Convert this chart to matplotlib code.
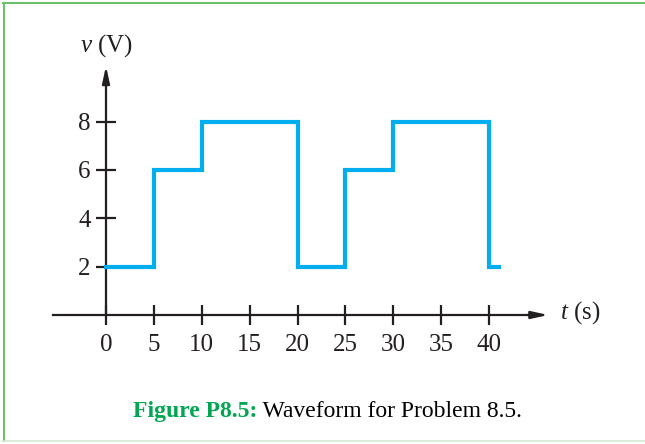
import matplotlib
matplotlib.use("Agg")
import matplotlib.pyplot as plt
from matplotlib.lines import Line2D

plt.rcParams['mathtext.fontset'] = 'custom'
plt.rcParams['mathtext.rm'] = 'Liberation Serif'
plt.rcParams['mathtext.it'] = 'Liberation Serif:italic'
plt.rcParams['font.family'] = ['Liberation Serif', 'DejaVu Serif']

# Data
t_edges = [0, 5, 10, 20, 25, 30, 40, 41]
v_levels = [2, 6, 8, 2, 6, 8, 2]
x_ticks = [0, 5, 10, 15, 20, 25, 30, 35, 40]
y_ticks = [2, 4, 6, 8]

AX = '#231F20'
BLUE = '#00AEEF'
GREEN = '#00A651'

fig = plt.figure(figsize=(6.45, 4.44), dpi=100)
ax = fig.add_axes([0, 0, 1, 1])
# pixel mapping: t=0 -> x=106, 9.575 px/unit ; v=0 -> y=315, 24.17 px/unit
ax.set_xlim(-106 / 9.575, (645 - 106) / 9.575)
ax.set_ylim((315 - 444) / 24.17, 315 / 24.17)
ax.patch.set_visible(False)

# waveform
xs, ys = [], []
for i, lv in enumerate(v_levels):
    xs += [t_edges[i], t_edges[i + 1]]
    ys += [lv, lv]
ax.plot(xs, ys, color=BLUE, lw=3.0, solid_joinstyle='miter', zorder=3)

# axes through origin
for s in ['top', 'right']:
    ax.spines[s].set_visible(False)
ax.spines['left'].set_position(('data', 0))
ax.spines['bottom'].set_position(('data', 0))
ax.spines['left'].set_bounds(0, 10.0)
ax.spines['bottom'].set_bounds(-5.5, 44.5)
for s in ['left', 'bottom']:
    ax.spines[s].set_color(AX)
    ax.spines[s].set_linewidth(1.6)

# arrows
ax.annotate('', xy=(46.2, 0), xytext=(44, 0),
            arrowprops=dict(arrowstyle='-|>,head_length=1.0,head_width=0.22', color=AX, lw=1.6,
                            shrinkA=0, shrinkB=0))
ax.annotate('', xy=(0, 10.3), xytext=(0, 9.5),
            arrowprops=dict(arrowstyle='-|>,head_length=1.0,head_width=0.22', color=AX, lw=1.6,
                            shrinkA=0, shrinkB=0))

ax.set_xticks(x_ticks)
ax.set_yticks(y_ticks)
ax.set_xticklabels([str(x) for x in x_ticks])
ax.set_yticklabels([str(y) for y in y_ticks])
ax.tick_params(axis='both', direction='inout', length=14, width=1.6, color=AX,
               labelsize=18, labelcolor=AX)
ax.tick_params(axis='x', pad=7)
ax.tick_params(axis='y', pad=4)

# axis labels
ax.text(0, 11.15, '$v$ (V)', ha='center', va='center', fontsize=18, color=AX)
ax.text(47.4, 0.1, '$t$ (s)', ha='left', va='center', fontsize=18, color=AX)

# caption
t1 = fig.text(133 / 645, 1 - 417 / 444, 'Figure P8.5:', ha='left', va='baseline',
              fontsize=17, fontweight='bold', color=GREEN)
fig.canvas.draw()
ax.annotate(' Waveform for Problem 8.5.', xy=(1, 0), xycoords=t1, va='bottom',
            ha='left', fontsize=17, color='black', annotation_clip=False)

# border
fig.add_artist(Line2D([3 / 645, 1], [1 - 3.5 / 444] * 2, transform=fig.transFigure,
                      color='#6CC06C', lw=1.5))
fig.add_artist(Line2D([4 / 645] * 2, [1 - 3 / 444, 1 - 441 / 444], transform=fig.transFigure,
                      color='#6CC06C', lw=1.5))
fig.add_artist(Line2D([3 / 645, 1], [1 - 441 / 444] * 2, transform=fig.transFigure,
                      color='#D3EAD4', lw=1.2))

fig.savefig('out.png', dpi=100)
